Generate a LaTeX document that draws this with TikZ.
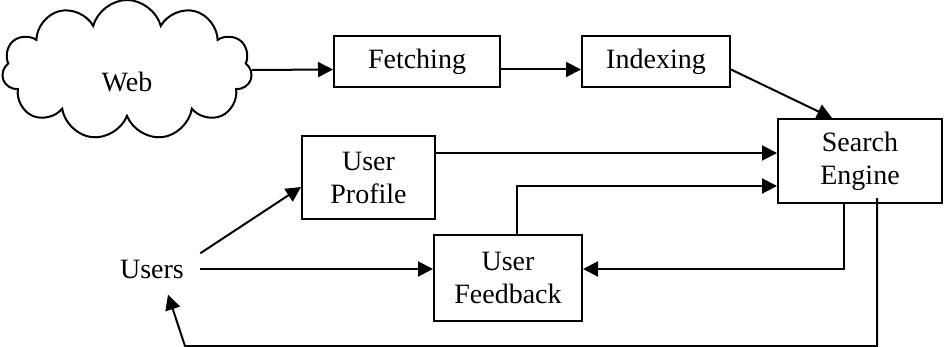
\documentclass[tikz,border=0pt]{standalone}
\usepackage{fontspec}
\setmainfont{Liberation Serif}
\usetikzlibrary{shapes.symbols,arrows.meta}

\begin{document}
\begin{tikzpicture}[x=0.5pt,y=-0.5pt,
	font=\fontsize{14}{16.5}\selectfont,
	box/.style={draw,line width=1pt,align=center,inner sep=0pt},
	arr/.style={line width=1pt,-{Triangle[length=7.5pt,width=7.5pt]}}]
	\useasboundingbox (0,0) rectangle (951,347);
	\node[cloud,draw,line width=1pt,cloud puffs=11,aspect=1.9,minimum width=125pt,minimum height=70pt,inner sep=0pt] (web) at (127,70) {\raisebox{-6pt}[\height][0pt]{Web}};
	\node[box,minimum width=83pt,minimum height=25.5pt] (fetch) at (417,61.5) {Fetching};
	\node[box,minimum width=74pt,minimum height=25.5pt] (index) at (656,61.5) {Indexing};
	\node[box,minimum width=82pt,minimum height=42pt] (search) at (860,161) {Search\\Engine};
	\node[box,minimum width=66.5pt,minimum height=41.5pt] (profile) at (368.5,177.5) {User\\Profile};
	\node[box,minimum width=74pt,minimum height=43pt] (feedback) at (508,278) {User\\Feedback};
	\node[inner sep=8pt] (users) at (152,269) {Users};
	\coordinate (bend) at (185,346);
	\draw[arr] (web.east |- 0,70) -- ([yshift=-4pt]fetch.west);
	\draw[arr] ([yshift=-4pt]fetch.east) -- ([yshift=-4pt]index.west);
	\draw[arr] ([yshift=-4pt]index.east) -- ([xshift=-14pt]search.north);
	\draw[arr] ([yshift=12.25pt]profile.east) -- ([yshift=4pt]search.west);
	\draw[arr] ([xshift=4.5pt]feedback.north) |- ([yshift=-12.5pt]search.west);
	\draw[arr] ([xshift=-8pt]search.south) |- ([yshift=4.5pt]feedback.east);
	\draw[arr] (users.east) -- (users.east -| feedback.west);
	\draw[arr] ([yshift=-5pt]users.north east) -- ([yshift=-4.75pt]profile.west);
	\draw[arr] ([xshift=8.5pt,yshift=3pt]search.south) |- (bend) -- ([xshift=8pt]users.south);
\end{tikzpicture}
\end{document}
